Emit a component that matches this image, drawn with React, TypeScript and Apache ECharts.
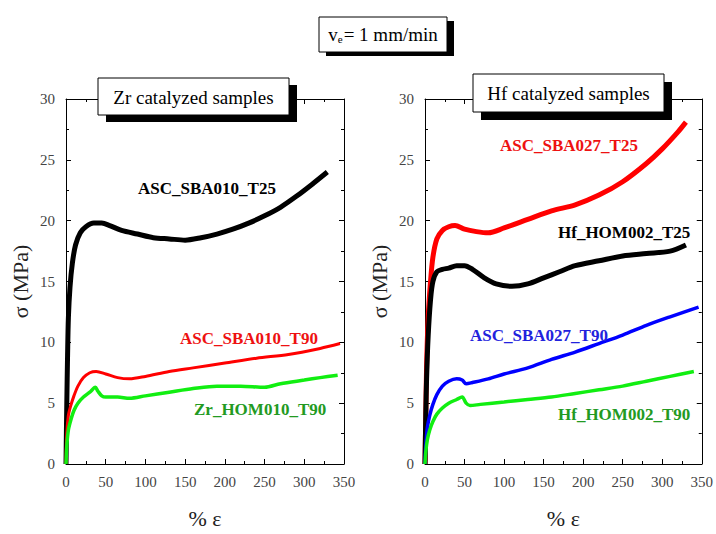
import React, { useEffect, useRef } from "react";
import * as echarts from "echarts";

// ---- Data ----
const xTicks = [0, 50, 100, 150, 200, 250, 300, 350];
const yTicks = [0, 5, 10, 15, 20, 25, 30];

// Left panel: Zr catalyzed samples
const zrT25X = [0, 1, 2, 3, 5, 8, 12, 18, 25, 35, 45, 55, 70, 90, 110, 130, 150, 170, 190, 210, 230, 250, 270, 290, 310, 329];
const zrT25Y = [0, 5, 9, 12, 14.5, 16.5, 18, 19, 19.5, 19.8, 19.8, 19.6, 19.2, 18.9, 18.6, 18.5, 18.4, 18.6, 18.9, 19.3, 19.8, 20.4, 21.1, 22.0, 23.0, 24.0];

const zrT90X = [0, 1, 3, 6, 10, 15, 22, 30, 38, 50, 65, 80, 100, 130, 160, 200, 240, 280, 320, 345];
const zrT90Y = [0, 2.5, 4, 4.8, 5.6, 6.4, 7.1, 7.5, 7.6, 7.4, 7.1, 7.0, 7.2, 7.6, 7.9, 8.3, 8.7, 9.0, 9.5, 9.9];

const zrHomX = [0, 1, 3, 6, 10, 15, 22, 30, 37, 40, 45, 50, 65, 80, 100, 130, 160, 190, 220, 250, 270, 300, 320, 342];
const zrHomY = [0, 1.5, 2.8, 3.6, 4.4, 5.0, 5.5, 5.9, 6.3, 6.0, 5.6, 5.5, 5.5, 5.4, 5.6, 5.9, 6.2, 6.4, 6.4, 6.3, 6.6, 6.9, 7.1, 7.3];

// Right panel: Hf catalyzed samples
const hfT25X = [0, 1, 2, 4, 7, 10, 15, 22, 30, 38, 50, 65, 80, 100, 130, 160, 190, 220, 250, 280, 300, 320, 330];
const hfT25Y = [0, 4, 8, 12, 15, 17, 18.5, 19.2, 19.5, 19.6, 19.3, 19.1, 19.0, 19.4, 20.1, 20.8, 21.3, 22.1, 23.2, 24.7, 25.9, 27.3, 28.1];

const hfHomT25X = [0, 1, 2, 4, 7, 10, 15, 22, 30, 40, 50, 60, 75, 90, 110, 130, 150, 170, 190, 220, 250, 280, 310, 330];
const hfHomT25Y = [0, 4, 7, 10.5, 13.5, 15, 15.8, 16.0, 16.1, 16.3, 16.3, 16.0, 15.3, 14.8, 14.6, 14.8, 15.3, 15.8, 16.3, 16.7, 17.1, 17.3, 17.5, 18.0];

const hfT90X = [0, 1, 3, 6, 10, 15, 22, 30, 40, 47, 52, 60, 80, 100, 130, 160, 190, 220, 250, 280, 310, 346];
const hfT90Y = [0, 1.5, 3, 4, 4.9, 5.7, 6.4, 6.8, 7.0, 6.9, 6.6, 6.7, 7.0, 7.4, 7.9, 8.6, 9.2, 9.9, 10.6, 11.4, 12.1, 12.9];

const hfHomT90X = [0, 1, 3, 6, 10, 15, 22, 30, 40, 47, 52, 57, 70, 100, 130, 160, 190, 220, 250, 280, 310, 340];
const hfHomT90Y = [0, 1.0, 2.0, 2.8, 3.5, 4.1, 4.6, 5.0, 5.3, 5.5, 5.0, 4.8, 4.9, 5.1, 5.3, 5.5, 5.8, 6.1, 6.4, 6.8, 7.2, 7.6];

const zip = (xs: number[], ys: number[]) => xs.map((x, i) => [x, ys[i]]);

const FONT = "Liberation Serif";

export default function App() {
  const ref = useRef<HTMLDivElement>(null);

  useEffect(() => {
    if (!ref.current) return;
    const chart = echarts.init(ref.current, null, { renderer: "svg" });

    const grids = [
      { left: 66, top: 99, width: 278, height: 370 },
      { left: 425, top: 99, width: 278, height: 370 },
    ];

    const tickCommon = {
      axisLine: { show: true, onZero: false, lineStyle: { color: "#000", width: 1 } },
      axisTick: { show: true, inside: true, length: 5, lineStyle: { color: "#000" } },
      minorTick: { show: true, splitNumber: 2, length: 3, lineStyle: { color: "#000" } },
      splitLine: { show: false },
    };

    const xAxes: any[] = [];
    const yAxes: any[] = [];
    [0, 1].forEach((g) => {
      xAxes.push({
        type: "value",
        gridIndex: g,
        min: 0,
        max: 350,
        interval: 50,
        position: "bottom",
        name: "% ε",
        nameLocation: "middle",
        nameGap: 43,
        nameTextStyle: { fontFamily: FONT, fontSize: 22, color: "#222" },
        axisLabel: { fontFamily: FONT, fontSize: 15, color: "#444", margin: 10, showMaxLabel: true },
        ...tickCommon,
      });
      xAxes.push({
        type: "value",
        gridIndex: g,
        min: 0,
        max: 350,
        interval: 50,
        position: "top",
        axisLabel: { show: false },
        ...tickCommon,
      });
      yAxes.push({
        type: "value",
        gridIndex: g,
        min: 0,
        max: 30,
        interval: 5,
        position: "left",
        name: "σ (MPa)",
        nameLocation: "middle",
        nameGap: 35,
        nameRotate: 90,
        nameTextStyle: { fontFamily: FONT, fontSize: 22, color: "#222" },
        axisLabel: { fontFamily: FONT, fontSize: 15, color: "#444", margin: 11 },
        ...tickCommon,
      });
      yAxes.push({
        type: "value",
        gridIndex: g,
        min: 0,
        max: 30,
        interval: 5,
        position: "right",
        axisLabel: { show: false },
        ...tickCommon,
      });
    });

    const mk = (name: string, xs: number[], ys: number[], color: string, width: number, g: number) => ({
      type: "line",
      name,
      xAxisIndex: g * 2,
      yAxisIndex: g * 2,
      data: zip(xs, ys),
      showSymbol: false,
      smooth: 0.3,
      lineStyle: { color, width },
      itemStyle: { color },
    });

    const series = [
      mk("ASC_SBA010_T25", zrT25X, zrT25Y, "#000000", 5, 0),
      mk("ASC_SBA010_T90", zrT90X, zrT90Y, "#ff0000", 3, 0),
      mk("Zr_HOM010_T90", zrHomX, zrHomY, "#11ee11", 3.5, 0),
      mk("ASC_SBA027_T25", hfT25X, hfT25Y, "#ff0000", 5, 1),
      mk("Hf_HOM002_T25", hfHomT25X, hfHomT25Y, "#000000", 5, 1),
      mk("ASC_SBA027_T90", hfT90X, hfT90Y, "#0000ff", 3.5, 1),
      mk("Hf_HOM002_T90", hfHomT90X, hfHomT90Y, "#11ee11", 3.5, 1),
    ];

    const label = (text: string, x: number, y: number, color: string) => ({
      type: "text",
      x,
      y,
      z: 10,
      style: {
        text,
        fill: color,
        font: `bold 17px "${FONT}"`,
        textVerticalAlign: "middle",
      },
    });

    const box = (x: number, y: number, w: number, h: number, dx: number, dy: number, text: any) => [
      { type: "rect", z: 30, shape: { x: x + dx, y: y + dy, width: w, height: h }, style: { fill: "#000" } },
      { type: "rect", z: 31, shape: { x, y, width: w, height: h }, style: { fill: "#fff", stroke: "#000", lineWidth: 1 } },
      { ...text, z: 32 },
    ];

    const option: any = {
      animation: false,
      backgroundColor: "#fff",
      grid: grids,
      xAxis: xAxes,
      yAxis: yAxes,
      series,
      graphic: [
        ...box(319, 17, 128, 35, 7, 4, {
          type: "text",
          x: 383,
          y: 34,
          style: {
            text: "{a|v}{b|e}{a|= 1 mm/min}",
            align: "center",
            verticalAlign: "middle",
            rich: {
              a: { fontFamily: FONT, fontSize: 19, fill: "#000", color: "#000" },
              b: { fontFamily: FONT, fontSize: 11, fill: "#000", color: "#000", verticalAlign: "bottom", padding: [10, 1, 0, 0] },
            },
          },
        }),
        ...box(98, 78, 191, 37, 8, 7, {
          type: "text",
          x: 193.5,
          y: 97,
          style: { text: "Zr catalyzed samples", font: `19px "${FONT}"`, fill: "#000", align: "center", verticalAlign: "middle" },
        }),
        ...box(473, 74, 191, 38, 8, 8, {
          type: "text",
          x: 568.5,
          y: 93,
          style: { text: "Hf catalyzed samples", font: `19px "${FONT}"`, fill: "#000", align: "center", verticalAlign: "middle" },
        }),
        label("ASC_SBA010_T25", 138, 188, "#000000"),
        label("ASC_SBA010_T90", 180, 338, "#ee1111"),
        label("Zr_HOM010_T90", 194, 409, "#229a22"),
        label("ASC_SBA027_T25", 500, 145, "#ee1111"),
        label("Hf_HOM002_T25", 558, 232, "#000000"),
        label("ASC_SBA027_T90", 470, 335, "#2222dd"),
        label("Hf_HOM002_T90", 558, 414, "#229a22"),
      ],
    };

    chart.setOption(option);
    return () => chart.dispose();
  }, []);

  return <div ref={ref} style={{ position: "absolute", left: 0, top: 0, width: 716, height: 534 }} />;
}
